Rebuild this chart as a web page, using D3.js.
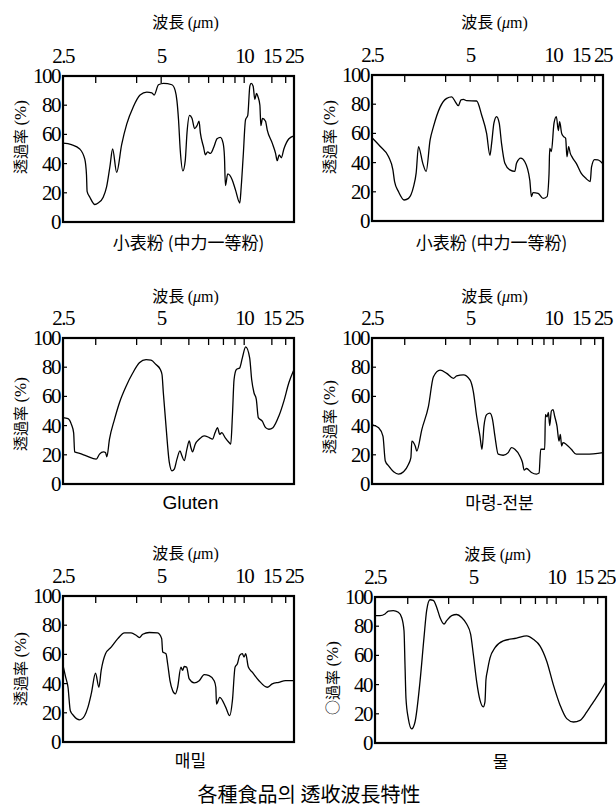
<!DOCTYPE html>
<html>
<head>
<meta charset="utf-8">
<script src="https://cdn.jsdelivr.net/npm/d3@7"></script>
<style>
  body { margin: 0; background: #fff; }
  svg { display: block; }
</style>
</head>
<body>
<svg id="chart" width="616" height="812"></svg>
<script>
// IR transmission spectra of several foods.
// x: wavenumber (cm^-1), axis labelled in wavelength (µm); y: transmittance (%)

const SERIF = "Liberation Serif";
const CJK = "Noto Sans CJK KR";
const SANS = "Liberation Sans";

const xTicksMicron  = [3, 4, 5, 6, 7, 8, 9, 10, 15, 20];
const xLabelsMicron = [2.5, 5, 10, 15, 25];
const yTicks = [0, 20, 40, 60, 80, 100];

// [wavenumber, transmittance]
const flourA = [[4000,54],[3829,53],[3658,50],[3556,43],[3521,32],[3509,21],[3453,17],[3351,12],[3284,13],[3181,17],[3112,24],[3044,38],[2989,50],[2907,34],[2805,53],[2702,67],[2567,79],[2430,87],[2293,89],[2190,88.5],[2143,87],[2055,94],[1972,95],[1871,94],[1831,90],[1810,83],[1791,70],[1770,49],[1738,35],[1710,42],[1689,61],[1658,73],[1629,71],[1597,64],[1568,66],[1544,69],[1528,61],[1488,51],[1468,46],[1440,48],[1407,47],[1368,51],[1327,57],[1287,58],[1254,54],[1238,45],[1226,25],[1198,33],[1145,29],[1105,22],[1053,13],[1036,24],[1012,45],[984,70],[957,73],[932,93],[916,95],[892,93],[872,84],[851,88],[835,86],[811,80],[799,66],[779,71],[743,69],[722,63],[662,54],[622,47],[602,42],[578,46],[553,44],[522,50],[461,57],[400,59]];

const flourB = [[4000,57],[3831,51],[3662,44],[3574,35],[3540,27],[3459,20],[3344,14.4],[3256,15.5],[3154,23.5],[3100,33],[3053,51],[2965,39.5],[2897,34],[2816,55.5],[2748,64.6],[2613,78],[2478,84],[2376,85],[2308,82],[2241,79],[2187,83],[2139,83.3],[2072,82.4],[1922,82.2],[1862,72.6],[1802,60],[1762,45],[1742,53],[1714,67],[1682,71.5],[1650,67],[1622,53],[1582,39.5],[1522,35],[1462,34],[1442,39.5],[1390,43],[1342,40.6],[1282,28],[1262,16.7],[1242,19.4],[1182,19],[1122,15.5],[1074,16.7],[1050,32.6],[1042,49.8],[1022,47.5],[990,67],[962,71.5],[938,62],[922,68],[898,60],[874,57.8],[850,56.6],[834,44],[814,51],[794,46.3],[770,43.6],[722,39.5],[662,32.6],[602,29],[554,27],[538,37],[502,42],[462,41.8],[400,39]];

const gluten = [[4000,45.5],[3898,44.8],[3831,41],[3783,35],[3763,22],[3662,21],[3526,19.3],[3323,17],[3256,20.5],[3174,22],[3134,21.6],[3107,18.6],[3053,30.7],[2951,44.3],[2850,55.7],[2714,67],[2579,76],[2444,83],[2308,85.2],[2207,84.8],[2105,81.8],[2017,78.4],[1990,75],[1974,62.5],[1942,39.8],[1902,14.8],[1870,9],[1842,10.2],[1810,17],[1774,22.7],[1750,19.3],[1722,16],[1690,23.9],[1662,29.5],[1642,25],[1622,22],[1590,27.3],[1542,30.7],[1482,33],[1422,31.8],[1382,30.7],[1350,35.2],[1322,38.6],[1294,34],[1270,35.2],[1230,31.8],[1182,28.4],[1162,27.3],[1142,46.6],[1122,71.6],[1094,78.4],[1054,79.5],[1022,86.4],[982,93.9],[934,86.4],[910,71.6],[882,62.5],[854,58],[830,45.5],[782,43],[742,38.6],[702,37.5],[654,38.6],[582,46.6],[522,56.8],[462,69.3],[400,78.4]];

const potatoStarch = [[4000,40.7],[3865,38.5],[3777,32.8],[3729,15.8],[3662,12.4],[3560,8.4],[3459,6.8],[3357,8.4],[3256,13.6],[3208,18],[3188,29.4],[3120,26],[3087,22.6],[2985,37.3],[2850,53.2],[2748,73.5],[2613,78],[2478,75.8],[2342,72.4],[2275,74],[2139,74.7],[2004,71.3],[1962,63.3],[1922,46.4],[1882,32.8],[1858,23.8],[1834,39.6],[1802,47.5],[1762,48.6],[1730,44],[1702,32.8],[1662,20.4],[1602,19.7],[1542,21.5],[1502,24.9],[1462,23.8],[1402,19.2],[1370,14.7],[1350,9.5],[1322,10.6],[1262,7.9],[1202,6.8],[1170,7.5],[1150,23.8],[1102,23.8],[1094,47.5],[1074,46],[1058,49],[1042,40],[1022,50],[1002,51],[982,46.4],[954,39.6],[930,29.4],[914,34],[898,26],[882,28.3],[842,27.1],[782,23.8],[722,20.4],[602,20.4],[400,21.5]];

const buckwheat = [[4000,52.4],[3946,44.4],[3898,37.5],[3851,21.4],[3783,18],[3662,15.2],[3560,18],[3493,23.7],[3425,32.9],[3337,47.1],[3269,37.5],[3222,49],[3134,60.5],[3019,65],[2884,70.8],[2748,74.7],[2613,74.7],[2511,73.1],[2444,71.5],[2376,73.8],[2241,75],[2072,74.7],[1994,70.8],[1982,61.6],[1942,60.5],[1922,53.6],[1894,42.1],[1862,35.2],[1830,32.9],[1802,37.5],[1762,51.3],[1742,49],[1722,51.7],[1694,51.3],[1662,43.2],[1602,40.5],[1542,42],[1482,46.2],[1422,45.5],[1362,42],[1342,37.5],[1334,26],[1294,30.6],[1222,23.7],[1174,18],[1142,28.3],[1110,51.3],[1082,53.6],[1054,59.3],[1022,60.5],[1002,58.2],[982,60.5],[950,51.3],[902,47.8],[822,42],[722,37.5],[662,39.8],[582,40.9],[502,42],[400,42]];

const water = [[4000,87.3],[3898,87.3],[3796,88.4],[3728,90.3],[3627,90.7],[3525,89.6],[3457,86],[3409,76.9],[3389,53.7],[3369,30.6],[3321,16.7],[3253,9.7],[3185,14.4],[3083,42.1],[3002,72.2],[2948,90.7],[2880,98.1],[2812,97.7],[2744,93],[2676,86],[2594,81.5],[2540,83.8],[2438,87.3],[2336,88],[2235,86],[2133,81.5],[2052,74.5],[1998,60.6],[1958,42.1],[1918,29.4],[1878,24.8],[1858,28.2],[1846,43.3],[1830,49],[1797,58.3],[1737,65.3],[1637,69.9],[1476,71.8],[1355,73.4],[1275,71],[1194,66.4],[1114,56],[1034,39.8],[953,25.9],[873,16.7],[792,14.4],[712,15.5],[631,21.3],[551,28.2],[470,35.2],[400,42.1]];

const sampleNames = ["小表粉 (中力一等粉)", "小表粉 (中力一等粉)", "Gluten", "마령-전분", "매밀", "물"];
const seriesList = [flourA, flourB, gluten, potatoStarch, buckwheat, water];
const yTitles = ["透過率", "透過率", "透過率", "透過率", "透過率", "○過率"];

const W = 231, H = 146;
// layout per panel (plot origin + small text offsets)
const layout = [
  { x: 63,  y: 76,  capDx: 10, capDy: 21, titleDy: -54, yTitleDy: -12 },
  { x: 372, y: 75,  capDx: 4,  capDy: 22, titleDy: -53, yTitleDy: -11 },
  { x: 63,  y: 338, capDx: 12, capDy: 19, titleDy: -42, yTitleDy: 3 },
  { x: 372, y: 338, capDx: 12, capDy: 19, titleDy: -42, yTitleDy: 6 },
  { x: 63,  y: 596, capDx: 12, capDy: 19, titleDy: -43, yTitleDy: 0 },
  { x: 375, y: 597, capDx: 10, capDy: 19, titleDy: -43, yTitleDy: 8 },
];

const svg = d3.select("#chart");
svg.append("rect").attr("width", 616).attr("height", 812).attr("fill", "#fff");

// spectrometer axis: 4000-2000 cm^-1 compressed, 2000-400 expanded
const x = d3.scaleLinear().domain([4000, 2000, 400]).range([0, 0.425 * W, W]);
const y = d3.scaleLinear().domain([0, 100]).range([H, 0]);

const line = d3.line()
  .x((d) => x(d[0]))
  .y((d) => y(d[1]))
  .curve(d3.curveMonotoneX);

seriesList.forEach((data, i) => {
  const L = layout[i];
  const g = svg.append("g").attr("transform", `translate(${L.x},${L.y})`);

  // top axis title
  const t = g.append("text")
    .attr("x", W / 2 + 7).attr("y", L.titleDy + 6)
    .attr("text-anchor", "middle")
    .attr("font-size", 16).attr("fill", "#000");
  t.append("tspan").attr("font-family", CJK).text("波長 ");
  t.append("tspan").attr("font-family", SERIF).text("(");
  t.append("tspan").attr("font-family", SERIF).attr("font-style", "italic").text("μ");
  t.append("tspan").attr("font-family", SERIF).text("m)");

  // top wavelength labels
  g.selectAll("text.xl").data(xLabelsMicron).join("text")
    .attr("class", "xl")
    .attr("font-family", SERIF)
    .attr("x", (d) => x(10000 / d)).attr("y", -13)
    .attr("text-anchor", "middle")
    .attr("font-size", 21).attr("letter-spacing", -1.5)
    .text((d) => d);

  // inward ticks on top
  g.selectAll("line.xt").data(xTicksMicron).join("line")
    .attr("class", "xt")
    .attr("x1", (d) => x(10000 / d)).attr("x2", (d) => x(10000 / d))
    .attr("y1", 0).attr("y2", 7)
    .attr("stroke", "#000").attr("stroke-width", 1.3);

  // y ticks + labels
  g.selectAll("line.yt").data(yTicks.slice(1, -1)).join("line")
    .attr("class", "yt")
    .attr("x1", 0).attr("x2", 4)
    .attr("y1", (d) => y(d)).attr("y2", (d) => y(d))
    .attr("stroke", "#000").attr("stroke-width", 1.2);
  g.selectAll("text.yl").data(yTicks).join("text")
    .attr("class", "yl")
    .attr("font-family", SERIF)
    .attr("x", -3).attr("y", (d) => y(d) + 7)
    .attr("text-anchor", "end")
    .attr("font-size", 21).attr("letter-spacing", -1.5)
    .text((d) => d);

  // y axis title
  const yt = g.append("text")
    .attr("transform", `translate(-37,${H / 2 + L.yTitleDy}) rotate(-90)`)
    .attr("text-anchor", "middle")
    .attr("font-size", 15).attr("fill", "#000");
  yt.append("tspan").attr("font-family", CJK).text(yTitles[i] + " ");
  yt.append("tspan").attr("font-family", SERIF).attr("font-size", 17).text("(%)");

  // spectrum
  g.append("path").datum(data)
    .attr("d", line)
    .attr("fill", "none").attr("stroke", "#000").attr("stroke-width", 1.3);

  // frame
  g.append("rect").attr("width", W).attr("height", H)
    .attr("fill", "none").attr("stroke", "#000").attr("stroke-width", 2.2);

  // sample name
  const latin = /^[A-Za-z]/.test(sampleNames[i]);
  g.append("text")
    .attr("x", W / 2 + L.capDx).attr("y", H + L.capDy + 6)
    .attr("text-anchor", "middle")
    .attr("font-family", latin ? SANS : CJK)
    .attr("font-size", latin ? 19 : 17)
    .text(sampleNames[i]);
});

svg.append("text")
  .attr("font-family", CJK)
  .attr("x", 309).attr("y", 802)
  .attr("text-anchor", "middle")
  .attr("font-size", 20)
  .text("各種食品의 透收波長特性");
</script>
</body>
</html>
